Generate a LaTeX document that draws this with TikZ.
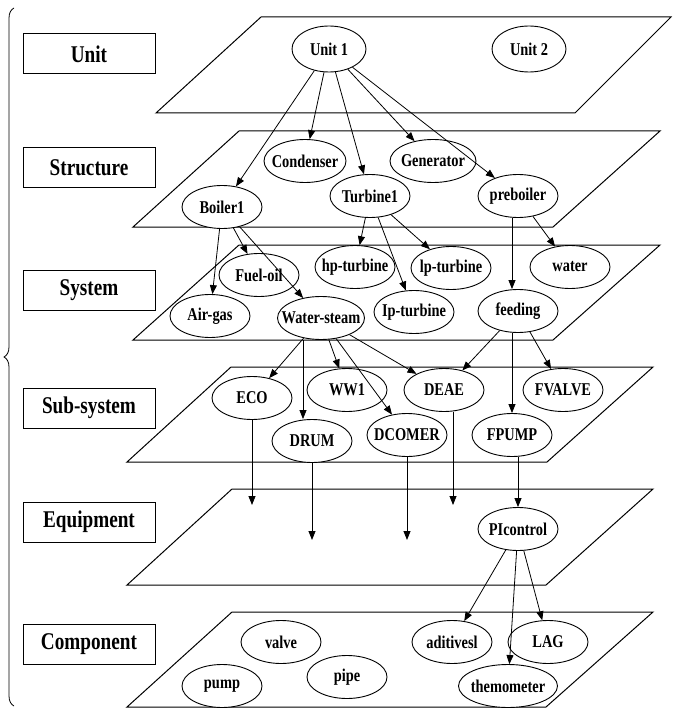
\documentclass[tikz,border=0pt]{standalone}
\usepackage{fontspec}
\setmainfont{Liberation Serif}[FakeStretch=0.8]
\usetikzlibrary{arrows.meta,shapes.geometric,decorations.pathreplacing}
\newcommand{\ename}[1]{\makebox[0pt]{#1}}
\tikzset{
  lvl/.style={draw, line width=1pt, rectangle, minimum width=132pt, minimum height=40pt, inner sep=0pt, font=\fontsize{24}{26}\selectfont\bfseries},
  elem/.style={draw, line width=0.9pt, ellipse, fill=white, minimum width=80pt, minimum height=43pt, inner sep=0pt, font=\fontsize{18}{20}\selectfont\bfseries},
  arr/.style={line width=0.8pt, -{Triangle[length=9pt,width=7pt]}},
  plane/.style={draw, line width=1pt}
}
\begin{document}
\begin{tikzpicture}[x=1pt,y=-1pt]
  \useasboundingbox (0,0) rectangle (673,711);
  % brace and level names
  \draw[line width=0.8pt, decorate, decoration={brace, amplitude=10pt}] (14,706) -- (14,8);
  \node[lvl] (lunit) at (89,54) {Unit};
  \node[lvl] (lstruct) at (89,168) {Structure};
  \node[lvl] (lsys) at (89,290) {System};
  \node[lvl] (lsub) at (89,408) {Sub-system};
  \node[lvl] (lequip) at (89,522) {Equipment};
  \node[lvl] (lcomp) at (89,644) {Component};
  % planes
  \draw[plane] (156,113) -- (575,113) -- (671,17) -- (261,17) -- cycle;
  \draw[plane] (133,227) -- (553,227) -- (660,131) -- (239,131) -- cycle;
  \draw[plane] (133,340) -- (553,340) -- (660,245) -- (239,245) -- cycle;
  \draw[plane] (127,462) -- (547,462) -- (653,367) -- (231,367) -- cycle;
  \draw[plane] (127,585) -- (546,585) -- (653,489) -- (232,489) -- cycle;
  \draw[plane] (127,707) -- (546,707) -- (653,612) -- (232,612) -- cycle;
  % unit
  \node[elem, minimum width=74pt, minimum height=46pt] (unit1) at (329,49) {\ename{Unit 1}};
  \node[elem, minimum width=74pt, minimum height=46pt] (unit2) at (529,49) {\ename{Unit 2}};
  % structure
  \node[elem, minimum width=82pt] (cond) at (305,161) {\ename{Condenser}};
  \node[elem, minimum width=86pt] (gen) at (433,161) {\ename{Generator}};
  \node[elem] (boil) at (222,207) {\ename{Boiler1}};
  \node[elem] (turb) at (370,196) {\ename{Turbine1}};
  \node[elem] (preb) at (518,196) {\ename{preboiler}};
  % system
  \node[elem] (fuel) at (259,275) {\ename{Fuel-oil}};
  \node[elem] (hpt) at (355,267) {\ename{hp-turbine}};
  \node[elem] (lpt) at (451,268) {\ename{lp-turbine}};
  \node[elem] (water) at (570,267) {\ename{water}};
  \node[elem] (air) at (210,316) {\ename{Air-gas}};
  \node[elem, minimum width=87pt] (wst) at (321,318) {\ename{Water-steam}};
  \node[elem] (ipt) at (414,312) {\ename{Ip-turbine}};
  \node[elem] (feed) at (518,311) {\ename{feeding}};
  % sub-system
  \node[elem] (eco) at (252,398) {\ename{ECO}};
  \node[elem] (ww) at (347,390) {\ename{WW1}};
  \node[elem] (deae) at (444,390) {\ename{DEAE}};
  \node[elem] (fval) at (563,390) {\ename{FVALVE}};
  \node[elem] (drum) at (312,441) {\ename{DRUM}};
  \node[elem] (dcom) at (407,435) {\ename{DCOMER}};
  \node[elem] (fpump) at (512,435) {\ename{FPUMP}};
  % equipment
  \node[elem] (pic) at (518,529) {\ename{PIcontrol}};
  \coordinate (ecoend) at (252,505);
  \coordinate (drumend) at (312,540);
  \coordinate (dcomend) at (407,540);
  \coordinate (deaeend) at (453,505);
  % component
  \node[elem] (valve) at (281,642) {\ename{valve}};
  \node[elem] (pump) at (222,686) {\ename{pump}};
  \node[elem] (pipe) at (347,677) {\ename{pipe}};
  \node[elem] (adit) at (452,642) {\ename{aditivesl}};
  \node[elem] (lag) at (548,642) {\ename{LAG}};
  \node[elem, minimum width=99pt] (thermo) at (508,686) {\ename{themometer}};
  % connectors
  \draw[arr] (unit1) -- (cond);
  \draw[arr] (unit1) -- (boil);
  \draw[arr] (unit1) -- (turb);
  \draw[arr] (unit1) -- (gen);
  \draw[arr] (unit1) -- (preb);
  \draw[arr] (boil) -- (air);
  \draw[arr] (boil) -- (fuel);
  \draw[arr] (boil) -- (wst);
  \draw[arr] (turb) -- (hpt);
  \draw[arr] (turb) -- (ipt);
  \draw[arr] (turb) -- (lpt);
  \draw[arr] ([xshift=-6pt]preb.south) -- ([xshift=-6pt]feed.north);
  \draw[arr] (preb) -- (water);
  \draw[arr] (wst) -- (eco);
  \draw[arr] ([xshift=-18pt]wst.south) -- ([xshift=-9pt]drum.north);
  \draw[arr] (wst) -- (ww);
  \draw[arr] (wst) -- (dcom);
  \draw[arr] (wst) -- (deae);
  \draw[arr] (feed) -- (deae);
  \draw[arr] (feed.south -| fpump) -- (fpump);
  \draw[arr] (feed) -- (fval);
  \draw[arr] (eco) -- (ecoend);
  \draw[arr] (drum) -- (drumend);
  \draw[arr] (dcom) -- (dcomend);
  \draw[arr] (deae.south -| deaeend) -- (deaeend);
  \draw[arr] (fpump.south -| pic) -- (pic);
  \draw[arr] (pic) -- (adit);
  \draw[arr] (pic) -- (thermo);
  \draw[arr] (pic) -- (lag);
\end{tikzpicture}
\end{document}
